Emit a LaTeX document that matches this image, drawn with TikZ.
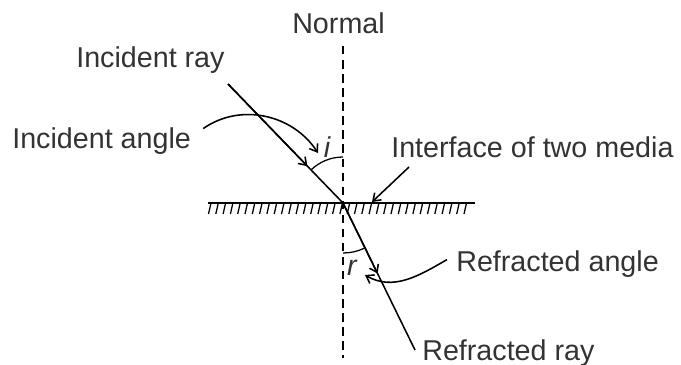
\documentclass[tikz,border=0pt]{standalone}
\usepackage{fontspec}
\setmainfont{Liberation Sans}
\usetikzlibrary{arrows.meta,calc}

\begin{document}
\begin{tikzpicture}[
  x=0.025cm, y=0.025cm,
  lbl/.style={font=\fontsize{20.4}{24}\selectfont, text=black!80, inner sep=0pt, anchor=base west},
  ray/.style={line width=1.1pt},
  arr/.style={line width=1.1pt, -{Straight Barb[length=5pt,width=7pt]}},
  normal/.style={line width=1.1pt, dash pattern=on 6pt off 4pt}
]
\useasboundingbox (0,0) rectangle (681,-364);
% points
\coordinate (O) at (343,-203);
\coordinate (src) at (228,-84);
\coordinate (dst) at (415,-350);
\coordinate (ntop) at (343,-46);
\coordinate (nbot) at (343,-358);
\coordinate (sleft) at (208,-203);
\coordinate (sright) at (475,-203);
\coordinate (itip) at (318,-153);
\coordinate (rtip) at (365,-275);
\coordinate (ftail) at (409,-167);
\coordinate (ftip) at (372,-202);
% labels
\node[lbl] (normlbl) at (292,-33) {Normal};
\node[lbl] (irlbl) at (76,-67) {Incident ray};
\node[lbl] (ialbl) at (12,-148) {Incident angle};
\node[lbl] (iflbl) at (391,-157) {Interface of two media};
\node[lbl] (ralbl) at (456,-271) {Refracted angle};
\node[lbl] (rrlbl) at (422,-360) {Refracted ray};
\node[font=\fontsize{20.4}{24}\selectfont\itshape, text=black!80, inner sep=0pt] (ilbl) at (327,-147) {i};
\node[font=\fontsize{20.4}{24}\selectfont\itshape, text=black!80, inner sep=0pt] (rlbl) at (352,-268) {r};
% normal and interface
\draw[normal] (ntop) -- (nbot);
\draw[ray] (sleft) -- (sright);
\foreach \x in {211,218.3,...,472}
  \draw[line width=0.9pt] (\x,-203) -- ++(-2.5,-11);
% rays
\draw[ray] (src) -- (O);
\draw[arr] (src) -- ($(src)!0.69!(O)$);
\draw[ray] (O) -- (dst);
\draw[arr] (O) -- ($(O)!0.48!(dst)$);
% angles
\draw[line width=0.9pt] (O) ++(90:46) arc[start angle=90, end angle=134, radius=46];
\draw[line width=0.9pt] (O) ++(-90:50) arc[start angle=-90, end angle=-64, radius=50];
% pointers
\draw[arr] (ialbl.east) ++(12,12) to[out=35, in=123] (itip);
\draw[arr] (ralbl.west) ++(-9,4) to[out=210, in=-30] (rtip);
\draw[arr] (ftail) -- (ftip);
\end{tikzpicture}
\end{document}
